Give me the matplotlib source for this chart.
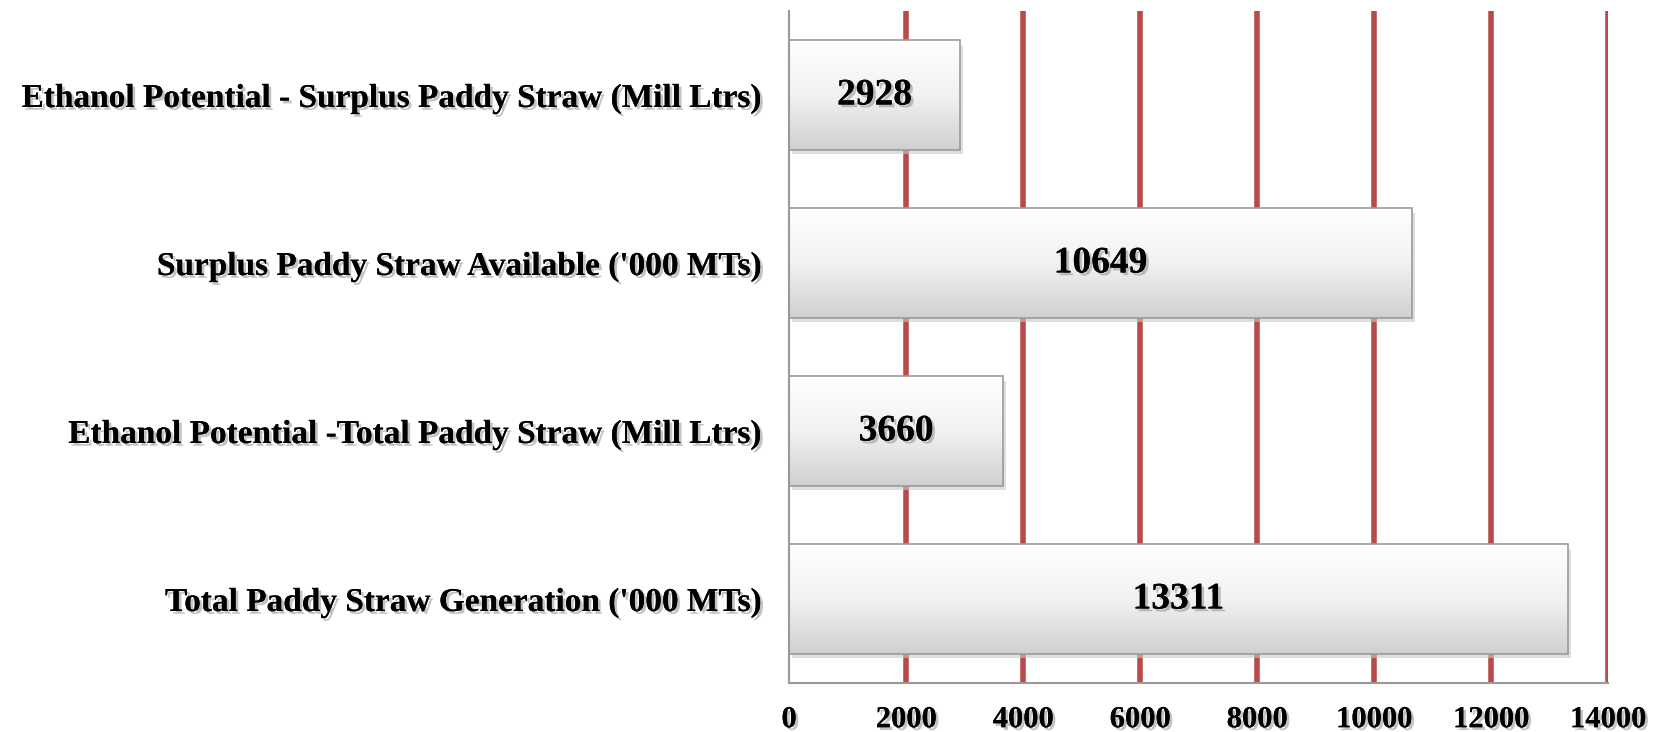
import numpy as np
import matplotlib.pyplot as plt
import matplotlib.patheffects as pe
from matplotlib.colors import LinearSegmentedColormap

categories = [
    "Total Paddy Straw Generation ('000 MTs)",
    "Ethanol Potential -Total Paddy Straw (Mill Ltrs)",
    "Surplus Paddy Straw Available ('000 MTs)",
    "Ethanol Potential - Surplus Paddy Straw (Mill Ltrs)",
]
values = [13311, 3660, 10649, 2928]
xticks = [0, 2000, 4000, 6000, 8000, 10000, 12000, 14000]

plt.rcParams['font.family'] = ['Liberation Serif', 'DejaVu Serif']
plt.rcParams['font.weight'] = 'bold'

fig = plt.figure(figsize=(16.6, 7.32), dpi=100)
ax = fig.add_axes([789 / 1660, 1 - 683 / 732, (1608 - 789) / 1660, (683 - 11) / 732])

shadow = [pe.withSimplePatchShadow(offset=(2, -2), shadow_rgbFace='#888888', alpha=0.5), pe.Normal()]

# gridlines behind bars
for x in xticks[1:]:
    ax.axvline(x, color='#B84A47', lw=4, zorder=1)

y = np.arange(len(categories))
bars = ax.barh(y, values, height=0.65, color='none', edgecolor='#9a9a9a', lw=1.2, zorder=3)

# vertical gradient inside each bar (white top -> light gray bottom)
grad = np.linspace(0, 1, 256).reshape(-1, 1)
cmap = LinearSegmentedColormap.from_list('g', ['#ffffff', '#f2f2f2', '#d0d0d0'])
for b, v in zip(bars, values):
    x0, y0 = b.get_x(), b.get_y()
    w, h = b.get_width(), b.get_height()
    # drop shadow
    ax.bar(x0 + w / 2 + 50, h, width=w, bottom=y0 - 0.025, color='#c8c8c8', alpha=0.6,
           zorder=1.5)
    im = ax.imshow(grad, extent=[x0, x0 + w, y0, y0 + h], origin='upper',
                   cmap=cmap, aspect='auto', zorder=2)
    im.set_clip_path(b)
    ax.text(x0 + w / 2, y0 + h / 2, f"{v}", ha='center', va='center',
            fontsize=27, fontweight='bold', zorder=4, path_effects=shadow)

ax.set_xlim(0, 14000)
ax.set_ylim(-0.5, 3.5)
ax.set_xticks(xticks)
ax.set_xticklabels([str(t) for t in xticks], fontsize=22, fontweight='bold')
ax.set_yticks(y)
ax.set_yticklabels(categories, fontsize=24, fontweight='bold')
for lab in ax.get_xticklabels() + ax.get_yticklabels():
    lab.set_path_effects(shadow)
ax.tick_params(length=0, pad=16, axis='x')
ax.tick_params(length=0, pad=19, axis='y')

for s in ['top', 'right']:
    ax.spines[s].set_visible(False)
ax.spines['left'].set_color('#999999')
ax.spines['bottom'].set_color('#999999')
ax.spines['left'].set_linewidth(1.5)
ax.spines['bottom'].set_linewidth(1.5)

fig.savefig('out.png', dpi=100)
